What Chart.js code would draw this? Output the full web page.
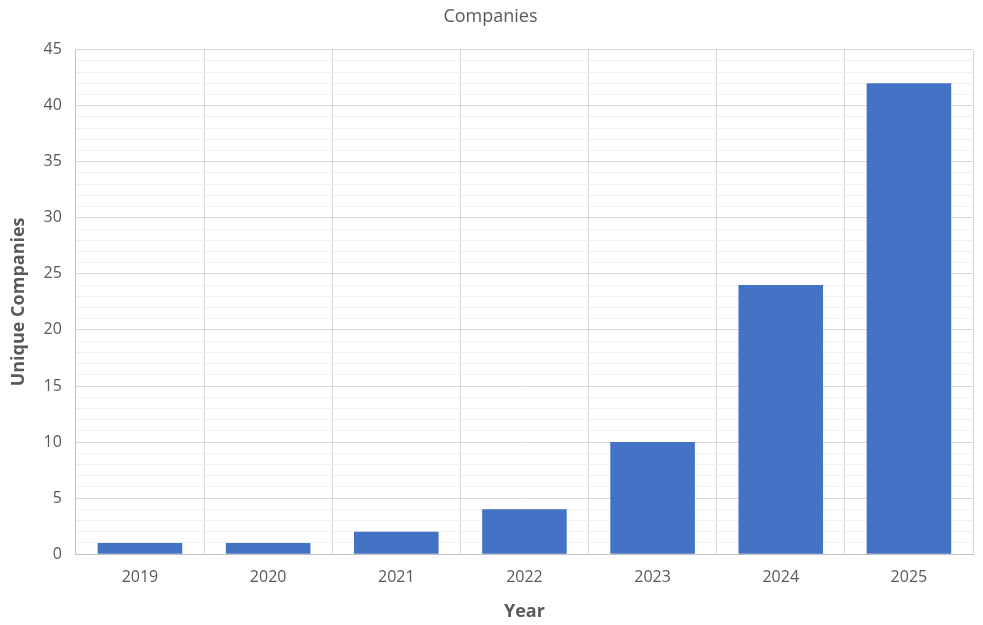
<!DOCTYPE html>
<html><head><meta charset="utf-8">
<script src="https://cdn.jsdelivr.net/npm/chart.js@4"></script>
<style>html,body{margin:0;padding:0;background:#fff}#wrap{width:983px;height:625px}</style>
</head><body><div id="wrap"><canvas id="c"></canvas></div>
<script>
const categories = ['2019','2020','2021','2022','2023','2024','2025'];
const companies = [1,1,2,4,10,24,42];
const yTicks = [0,5,10,15,20,25,30,35,40,45];

const font = '"Open Sans", "Noto Sans", sans-serif';
new Chart(document.getElementById('c'), {
  type: 'bar',
  data: { labels: categories, datasets: [{ label: 'Unique Companies', data: companies, backgroundColor: '#4472c4', barPercentage: 0.66, categoryPercentage: 1 }] },
  options: {
    responsive: true, maintainAspectRatio: false, animation: false,
    layout: { padding: { left: 8, right: 10, top: 6, bottom: 2 } },
    plugins: {
      legend: { display: false },
      tooltip: { enabled: false },
      title: { display: true, text: 'Companies', color: '#595959', font: { family: font, size: 18, weight: 'normal' }, padding: { top: 0, bottom: 22 } }
    },
    scales: {
      x: {
        grid: { color: '#d9d9d9', drawTicks: false, offset: true },
        border: { color: '#bfbfbf' },
        ticks: { color: '#595959', font: { family: font, size: 16 }, padding: 14 },
        title: { display: true, text: 'Year', color: '#595959', font: { family: font, size: 18, weight: 'bold' }, padding: { top: 0, bottom: 0 } }
      },
      y: {
        min: 0, max: 45,
        afterBuildTicks: (axis) => {
          const t = [];
          for (let v = 0; v <= 45; v++) t.push({ value: v });
          axis.ticks = t;
        },
        grid: { color: (ctx) => (ctx.tick && yTicks.includes(ctx.tick.value)) ? '#d9d9d9' : '#f0f0f0', drawTicks: false },
        border: { color: '#bfbfbf' },
        ticks: { autoSkip: false, color: '#595959', font: { family: font, size: 16 }, padding: 14,
          callback: (v) => yTicks.includes(v) ? String(v) : '' },
        title: { display: true, text: 'Unique Companies', color: '#595959', font: { family: font, size: 18, weight: 'bold' }, padding: { top: 0, bottom: 0 } }
      }
    }
  }
});
</script></body></html>
